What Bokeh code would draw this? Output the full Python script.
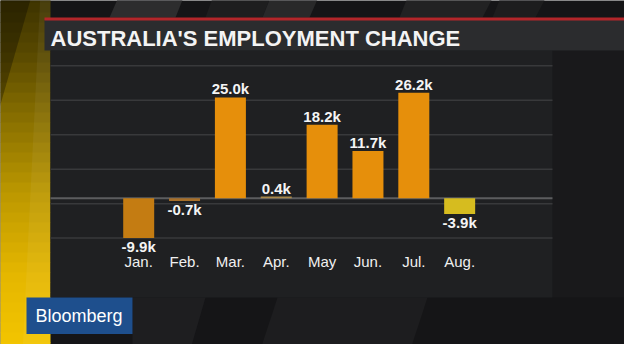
from bokeh.plotting import figure
from bokeh.models import Range1d, ColumnDataSource
from bokeh.embed import file_html
from bokeh.resources import INLINE
from bokeh.core.properties import value

# ---------------- data ----------------
title = "AUSTRALIA'S EMPLOYMENT CHANGE"
months = ["Jan.", "Feb.", "Mar.", "Apr.", "May", "Jun.", "Jul.", "Aug."]
changes = [-9.9, -0.7, 25.0, 0.4, 18.2, 11.7, 26.2, -3.9]          # thousands
value_labels = ["-9.9k", "-0.7k", "25.0k", "0.4k", "18.2k", "11.7k", "26.2k", "-3.9k"]
grid_levels = [-9.9, -1.35, 7.2, 15.75, 24.3, 32.85]
bar_colors = ["#C47C12", "#A8702A", "#E68F0B", "#A8884A",
              "#E68F0B", "#E68F0B", "#E68F0B", "#D6BC1F"]
brand = "Bloomberg"

# ---------------- layout helpers ----------------
W, H = 624, 344
FONT = value("Liberation Sans")
idx = list(range(len(months)))

p = figure(width=W, height=H, output_backend="svg", toolbar_location=None,
           x_range=Range1d(-3.014, 10.595), y_range=Range1d(-36.30, 49.06),
           x_axis_location=None, y_axis_location=None, min_border=0)
p.min_border_left = p.min_border_right = p.min_border_top = p.min_border_bottom = 0
p.outline_line_color = None
p.grid.visible = False
p.background_fill_color = "#151517"
p.border_fill_color = "#151517"
# pixel-space range for the broadcast-style decoration (page pixels)
p.extra_x_ranges = {"px": Range1d(8, 632)}
p.extra_y_ranges = {"px": Range1d(352, 8)}
PX = dict(x_range_name="px", y_range_name="px")

# --- background stripes (top strip) ---
stripes_xs = [[117, 183, 193, 128], [213, 270, 280, 222], [270, 317, 328, 280],
              [407, 490, 503, 417], [500, 543, 556, 510]]
stripes_ys = [[25, 25, 0, 0]] * 5
stripes_col = ["#2d2d2e", "#1e1e1f", "#29292a", "#222223", "#1d1d1e"]
p.patches(stripes_xs, stripes_ys, fill_color=stripes_col, line_color=None, **PX)

# right side and bottom shading
p.quad(left=560, right=640, top=58, bottom=305, fill_color="#19191b", line_color=None, **PX)
bot_xs = [[140, 213, 197, 140], [285, 435, 417, 267]]
bot_ys = [[305, 305, 360, 360], [305, 305, 360, 360]]
p.patches(bot_xs, bot_ys, fill_color=["#1e1e20", "#1d1d1f"], line_color=None, **PX)

# --- left yellow band (vertical gradient in bands) ---
stops = [(0, (0x3a, 0x30, 0x00)), (60, (0x58, 0x49, 0x00)), (120, (0x84, 0x6c, 0x00)),
         (200, (0xbc, 0x98, 0x00)), (280, (0xe4, 0xb6, 0x00)), (360, (0xf4, 0xc6, 0x00))]


def band_color(y):
    for (y0, c0), (y1, c1) in zip(stops[:-1], stops[1:]):
        if y0 <= y <= y1:
            t = (y - y0) / (y1 - y0)
            return "#%02x%02x%02x" % tuple(int(a + (b - a) * t) for a, b in zip(c0, c1))
    return "#%02x%02x%02x" % stops[-1][1]


nb = 36
step = 360 / nb
p.quad(left=[0] * nb, right=[58] * nb,
       top=[i * step for i in range(nb)], bottom=[(i + 1) * step + 0.5 for i in range(nb)],
       fill_color=[band_color((i + 0.5) * step) for i in range(nb)], line_color=None, **PX)
p.patch([0, 40, 0], [0, 0, 140], fill_color="black", fill_alpha=0.3, line_color=None, **PX)
p.patch([48, 58, 58, 30], [0, 0, 360, 360], fill_color="white", fill_alpha=0.05, line_color=None, **PX)

# --- chart panel and title bar ---
p.quad(left=58, right=560, top=58, bottom=305, fill_color="#1f2022", line_color=None, **PX)
p.quad(left=52, right=640, top=27.5, bottom=58, fill_color="#2b2c2e", line_color=None, **PX)
p.quad(left=52, right=640, top=25, bottom=28, fill_color="#b3262a", line_color=None, **PX)
p.text(x=[58], y=[45.8], text=[title], text_font=FONT, text_font_style="bold",
       text_font_size="22px", text_color="#f4f4f4", text_baseline="middle",
       text_align="left", **PX)

# --- grid lines (x in page px, y in data) ---
p.segment(x0=58, x1=560, y0=grid_levels, y1=grid_levels, line_color="#38393b",
          line_width=1.5, x_range_name="px")
p.segment(x0=58, x1=560, y0=[0], y1=[0], line_color="#5c5d5f", line_width=2,
          x_range_name="px")

# --- bars ---
src = ColumnDataSource(dict(
    x=idx, top=changes, color=bar_colors, label=value_labels, month=months,
    yoff=[-8.5 if v >= 0 else 8.5 for v in changes],
))
p.vbar(x="x", width=0.676, top="top", bottom=0, fill_color="color", line_color=None,
       source=src)

# value labels
p.text(x="x", y="top", text="label", y_offset="yoff", source=src,
       text_font=FONT, text_font_style="bold", text_font_size="15px",
       text_color="#f4f4f4", text_align="center", text_baseline="middle")

# month labels (y in page px)
p.text(x="x", y=268.7, text="month", source=src, y_range_name="px",
       text_font=FONT, text_font_size="15px", text_color="#f0f0f0",
       text_align="center", text_baseline="middle")

# --- Bloomberg tag ---
p.quad(left=34, right=140, top=305, bottom=341.5, fill_color="#1e4f8d", line_color=None, **PX)
p.text(x=[43], y=[323], text=[brand], text_font=FONT, text_font_size="18px",
       text_color="#ffffff", text_baseline="middle", text_align="left", **PX)

open("out.html", "w").write(file_html(p, INLINE))
